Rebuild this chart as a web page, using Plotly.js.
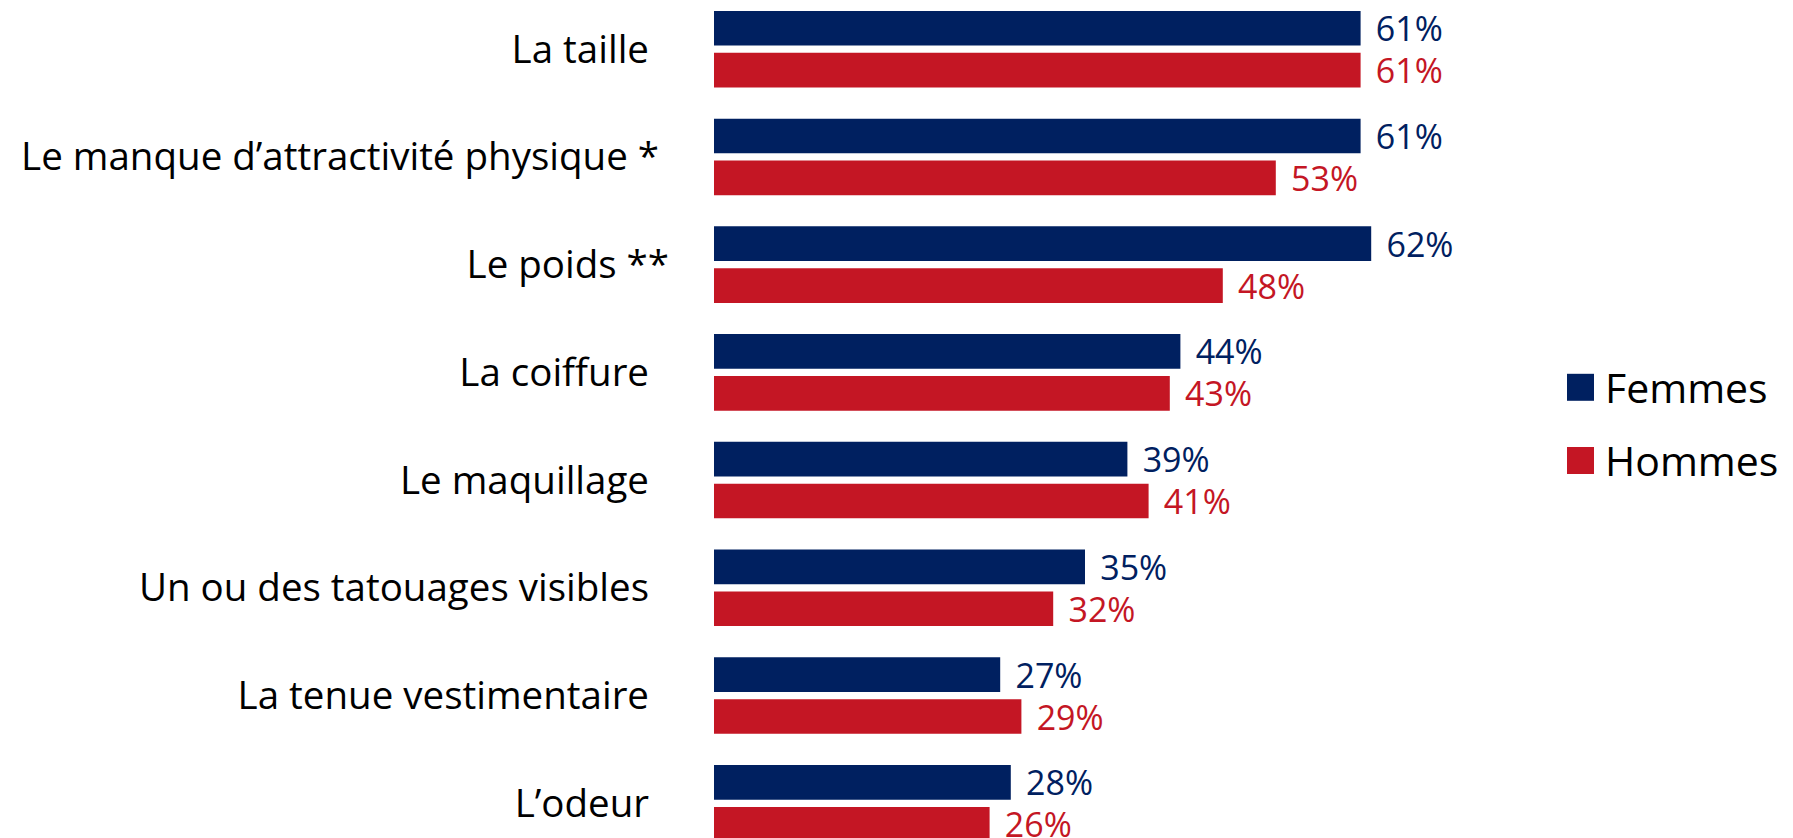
<!DOCTYPE html>
<html>
<head>
<meta charset="utf-8">
<script src="https://cdn.plot.ly/plotly-3.0.1.min.js"></script>
<style>
  html, body { margin: 0; padding: 0; background: #ffffff; }
  #chart { width: 1793px; height: 838px; }
</style>
</head>
<body>
<div id="chart"></div>
<script>
// ---- Data ----
const categories = [
  "La taille",
  "Le manque d’attractivité physique *",
  "Le poids **",
  "La coiffure",
  "Le maquillage",
  "Un ou des tatouages visibles",
  "La tenue vestimentaire",
  "L’odeur"
];
const seriesNames = ["Femmes", "Hommes"];
const femmes = [61, 61, 62, 44, 39, 35, 27, 28];
const hommes = [61, 53, 48, 43, 41, 32, 29, 26];

// ---- Styling / layout constants ----
const W = 1793, H = 838;
const ML = 714, MR = 0, MT = 0, MB = 0;
const PX_PER_PCT = 10.6;
const PX_PER_CAT = 107.74;
const FIRST_CENTER_PX = 49.15;
const NAVY = "#002060";
const RED = "#C41624";
const FONT = "'Open Sans', Lato, 'Noto Sans', sans-serif";
const NBSP = "\u00A0";
const HAIR = "\u200A";

const plotW = W - ML - MR;
const xMax = plotW / PX_PER_PCT;
const yTop = -FIRST_CENTER_PX / PX_PER_CAT;
const yBottom = yTop + (H - MT - MB) / PX_PER_CAT;

function pct(v) { return NBSP + HAIR + v + "%"; }
function padLabel(c) {
  const n = c.endsWith("**") ? 0 : (c.endsWith("*") ? 1 : 2);
  return c + NBSP.repeat(n);
}
function paperX(px) { return (px - ML) / plotW; }
function paperY(py) { return 1 - (py - MT) / (H - MT - MB); }

const traces = [
  {
    type: "bar", orientation: "h", name: seriesNames[0],
    y: categories, x: femmes,
    text: femmes.map(pct), textposition: "outside", cliponaxis: false,
    constraintext: "none",
    textfont: { family: FONT, size: 34, color: NAVY },
    marker: { color: NAVY },
    showlegend: false, hoverinfo: "skip"
  },
  {
    type: "bar", orientation: "h", name: seriesNames[1],
    y: categories, x: hommes,
    text: hommes.map(pct), textposition: "outside", cliponaxis: false,
    constraintext: "none",
    textfont: { family: FONT, size: 34, color: RED },
    marker: { color: RED },
    showlegend: false, hoverinfo: "skip"
  }
];

// Legend (swatches + labels)
const legendItems = [
  { name: seriesNames[0], color: NAVY, cy: 387.3 },
  { name: seriesNames[1], color: RED, cy: 460.5 }
];
const SW = 27, SW_X0 = 1567, LABEL_X = 1603;
const shapes = legendItems.map(it => ({
  type: "rect", xref: "paper", yref: "paper",
  x0: paperX(SW_X0), x1: paperX(SW_X0 + SW),
  y0: paperY(it.cy + SW / 2), y1: paperY(it.cy - SW / 2),
  fillcolor: it.color, line: { width: 0 }
}));
const annotations = legendItems.map(it => ({
  xref: "paper", yref: "paper",
  x: paperX(LABEL_X), y: paperY(it.cy),
  xanchor: "left", yanchor: "middle",
  text: it.name, showarrow: false,
  font: { family: FONT, size: 41, color: "#000000" }
}));

const layout = {
  width: W, height: H,
  margin: { l: ML, r: MR, t: MT, b: MB, pad: 0 },
  paper_bgcolor: "#ffffff", plot_bgcolor: "#ffffff",
  barmode: "group", bargap: 0.223, bargroupgap: 0.172,
  showlegend: false,
  xaxis: {
    range: [0, xMax], visible: false, fixedrange: true
  },
  yaxis: {
    type: "category",
    categoryorder: "array", categoryarray: categories,
    range: [yBottom, yTop],
    tickvals: categories, ticktext: categories.map(padLabel),
    showgrid: false, zeroline: false, showline: false,
    ticks: "", ticklabelstandoff: 44,
    tickfont: { family: FONT, size: 38.5, color: "#000000" },
    fixedrange: true
  },
  shapes: shapes,
  annotations: annotations
};

Plotly.newPlot("chart", traces, layout, { displayModeBar: false, staticPlot: true });
</script>
</body>
</html>
